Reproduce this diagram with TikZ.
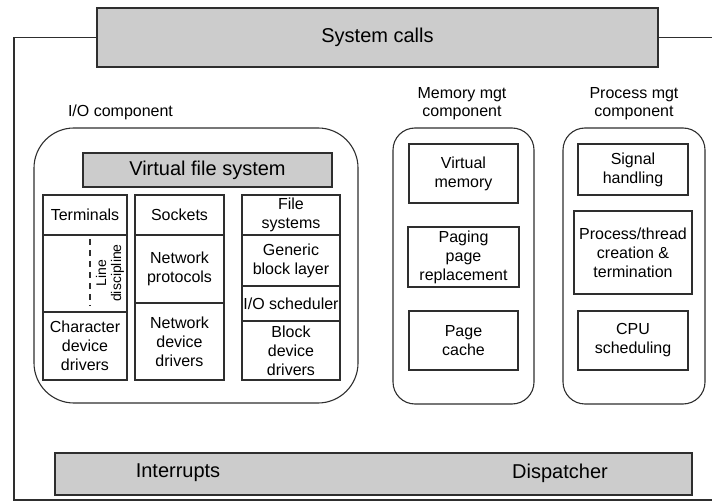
\documentclass[tikz,border=0pt]{standalone}
\usepackage{fontspec}
\setmainfont{Liberation Sans}
\begin{document}
\begin{tikzpicture}[x=1pt,y=-1pt,
  every node/.style={inner sep=0pt, outer sep=0pt},
  ln/.style={draw=black!82, line width=1.1pt},
  cell/.style={ln, rectangle, align=center,
    font=\fontsize{16}{19}\selectfont},
  shade/.style={ln, rectangle, fill=black!20,
    font=\fontsize{20}{24}\selectfont},
  group/.style={ln, rectangle, rounded corners=#1},
  caption/.style={align=center, font=\fontsize{16}{18}\selectfont},
  big/.style={font=\fontsize{20}{24}\selectfont}]
\useasboundingbox (0,0) rectangle (712,502);

% top bar and the outer frame hanging from it
\node[shade, minimum width=561pt, minimum height=59pt] (sys) at (377.5,37.5) {System calls};
\coordinate (ftl) at (14,37.5);
\coordinate (fbl) at (14,500);
\coordinate (fbr) at (712,500);
\coordinate (ftr) at (712,37.5);
\draw[ln] (sys.west) -- (ftl) -- (fbl) -- (fbr);
\draw[ln] (sys.east) -- (ftr);

% bottom bar
\node[shade, minimum width=637pt, minimum height=42pt] (bar) at (373.5,474) {};
\node[big] (intr) at (178,473) {Interrupts};
\node[big] (disp) at (560,473) {Dispatcher};

% I/O component
\node[caption, anchor=west] (iolab) at (68,112) {I/O component};
\node[group=40pt, minimum width=324pt, minimum height=275pt] (io) at (196,265.5) {};
\node[shade, minimum width=249pt, minimum height=34pt] (vfs) at (207.5,170) {Virtual file system};

\node[cell, minimum width=84pt, minimum height=40pt] (term) at (85,215) {Terminals};
\node[cell, minimum width=84pt, minimum height=77pt] (ldisc) at (85,273.5) {};
\node[cell, minimum width=84pt, minimum height=68pt] (chr) at (85,346) {Character\\device\\drivers};
\coordinate (ld1) at (90,239);
\coordinate (ld2) at (90,306);
\draw[black!82, line width=1.3pt, dash pattern=on 6pt off 5pt] (ld1) -- (ld2);
\node[align=center, rotate=90, font=\fontsize{14}{15}\selectfont] (ldtxt) at (110,273) {Line\\discipline};

\node[cell, minimum width=89pt, minimum height=40pt] (sock) at (179.5,215) {Sockets};
\node[cell, minimum width=89pt, minimum height=68pt] (nproto) at (179.5,269) {Network\\protocols};
\node[cell, minimum width=89pt, minimum height=77pt] (ndev) at (179.5,341.5) {Network\\device\\drivers};

\node[cell, minimum width=98pt, minimum height=40pt] (fs) at (291,215) {File\\systems};
\node[cell, minimum width=98pt, minimum height=51pt] (gbl) at (291,260.5) {Generic\\block layer};
\node[cell, minimum width=98pt, minimum height=35pt] (iosch) at (291,303.5) {I/O scheduler};
\node[cell, minimum width=98pt, minimum height=59pt] (bdev) at (291,350.5) {Block\\device\\drivers};

% memory management component
\node[caption] (memlab) at (462,104) {Memory mgt\\component};
\node[group=22pt, minimum width=141pt, minimum height=276pt] (mem) at (463.5,266) {};
\node[cell, minimum width=109pt, minimum height=59pt] (vm) at (463.5,173.5) {Virtual\\memory};
\node[cell, minimum width=111pt, minimum height=60pt] (paging) at (463.5,257) {Paging\\page\\replacement};
\node[cell, minimum width=109pt, minimum height=59pt] (pcache) at (463.5,340.5) {Page\\cache};

% process management component
\node[caption] (proclab) at (634,104) {Process mgt\\component};
\node[group=22pt, minimum width=142pt, minimum height=276pt] (proc) at (634,266) {};
\node[cell, minimum width=110pt, minimum height=51pt] (sig) at (633,169.5) {Signal\\handling};
\node[cell, minimum width=118pt, minimum height=83pt] (pt) at (633,252.5) {Process/thread\\creation \&\\termination};
\node[cell, minimum width=110pt, minimum height=59pt] (cpu) at (633,340.5) {CPU\\scheduling};
\end{tikzpicture}
\end{document}
